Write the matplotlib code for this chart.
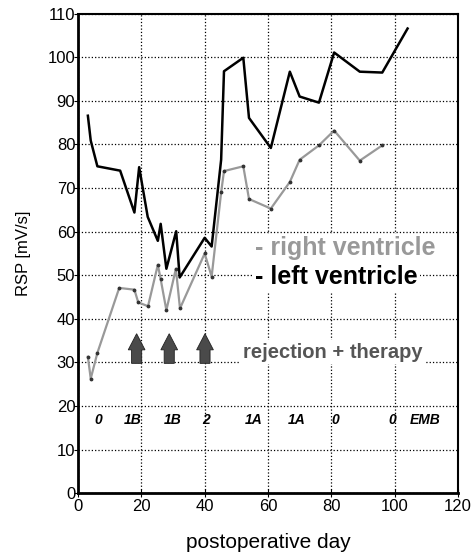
import numpy as np
import matplotlib
matplotlib.use('Agg')
import matplotlib.pyplot as plt

plt.rcParams['font.family'] = ['Liberation Sans', 'DejaVu Sans']

# left ventricle (black)
lv_day = [3.1, 4.0, 6.1, 13.3, 17.8, 19.3, 22.0, 25.2, 26.1, 27.9, 31.0, 32.1,
          40.0, 42.2, 45.2, 46.1, 52.2, 54.0, 60.9, 66.9, 70.0, 76.1, 80.9,
          89.0, 96.1, 104.1]
lv_rsp = [86.6, 80.9, 75.0, 74.0, 64.4, 74.8, 63.4, 57.9, 61.8, 51.5, 60.1, 49.5,
          58.6, 56.6, 76.5, 96.8, 99.9, 86.1, 79.2, 96.7, 91.0, 89.6, 101.1,
          96.7, 96.5, 106.6]

# right ventricle (gray)
rv_day = [3.1, 4.0, 6.1, 13.0, 17.8, 19.0, 22.1, 25.2, 26.1, 27.9, 30.9, 32.2,
          40.0, 42.2, 45.2, 46.1, 52.2, 54.0, 60.9, 66.9, 70.0, 76.1, 80.9,
          89.0, 96.1]
rv_rsp = [31.3, 26.3, 32.2, 47.1, 46.7, 43.8, 42.9, 52.4, 49.1, 42.0, 51.5, 42.4,
          55.0, 49.7, 69.0, 73.9, 75.0, 67.5, 65.3, 71.4, 76.5, 79.8, 83.2,
          76.3, 79.8]

# rejection + therapy arrows
arrow_day = [18.5, 28.8, 40.1]

# biopsy grades
emb_day = [6.3, 17.4, 30.0, 40.4, 55.4, 69.1, 81.3, 99.2, 109.6]
emb_lab = ['0', '1B', '1B', '2', '1A', '1A', '0', '0', 'EMB']

fig = plt.figure(figsize=(4.76, 5.57), dpi=100)
ax = fig.add_axes([0.164, 0.1144, 0.798, 0.861])

ax.plot(rv_day, rv_rsp, color='#999999', lw=1.6, marker='.', ms=3.5,
        mfc='#333333', mec='#333333', zorder=3)
ax.plot(lv_day, lv_rsp, color='black', lw=1.8, zorder=4)

for d in arrow_day:
    ax.arrow(d, 29.8, 0, 6.8, width=3.2, head_width=5.3, head_length=3.7,
             length_includes_head=True, fc='#4a4a4a', ec='#222222', lw=0.6, zorder=5)

for d, lab in zip(emb_day, emb_lab):
    ax.text(d, 16.8, lab, ha='center', va='center', fontsize=10,
            fontweight='bold', fontstyle='italic', zorder=5)

box = dict(facecolor='white', edgecolor='none', pad=2)
ax.text(55.9, 56.2, '- right ventricle', color='#999999', fontsize=18,
        fontweight='bold', va='center', ha='left', bbox=box, zorder=6)
ax.text(55.9, 49.6, '- left ventricle', color='black', fontsize=18,
        fontweight='bold', va='center', ha='left', bbox=box, zorder=6)
ax.text(52.1, 32.4, 'rejection + therapy', color='#555555', fontsize=14.5,
        fontweight='bold', va='center', ha='left', bbox=box, zorder=6)

ax.set_xlim(0, 120)
ax.set_ylim(0, 110)
ax.set_xticks(np.arange(0, 121, 20))
ax.set_yticks(np.arange(0, 111, 10))
ax.grid(True, linestyle=':', color='black', lw=0.9)
ax.set_axisbelow(True)
ax.tick_params(axis='y', direction='out', length=3, labelsize=12, pad=-1)
ax.tick_params(axis='x', direction='inout', length=6, labelsize=12, pad=1)
for s in ['left', 'bottom']:
    ax.spines[s].set_linewidth(2)
for s in ['top', 'right']:
    ax.spines[s].set_linewidth(1.5)

ax.set_xlabel('postoperative day', fontsize=15, labelpad=14)
ax.set_ylabel('RSP [mV/s]', fontsize=12, labelpad=12)

fig.savefig('out.png', dpi=100)
